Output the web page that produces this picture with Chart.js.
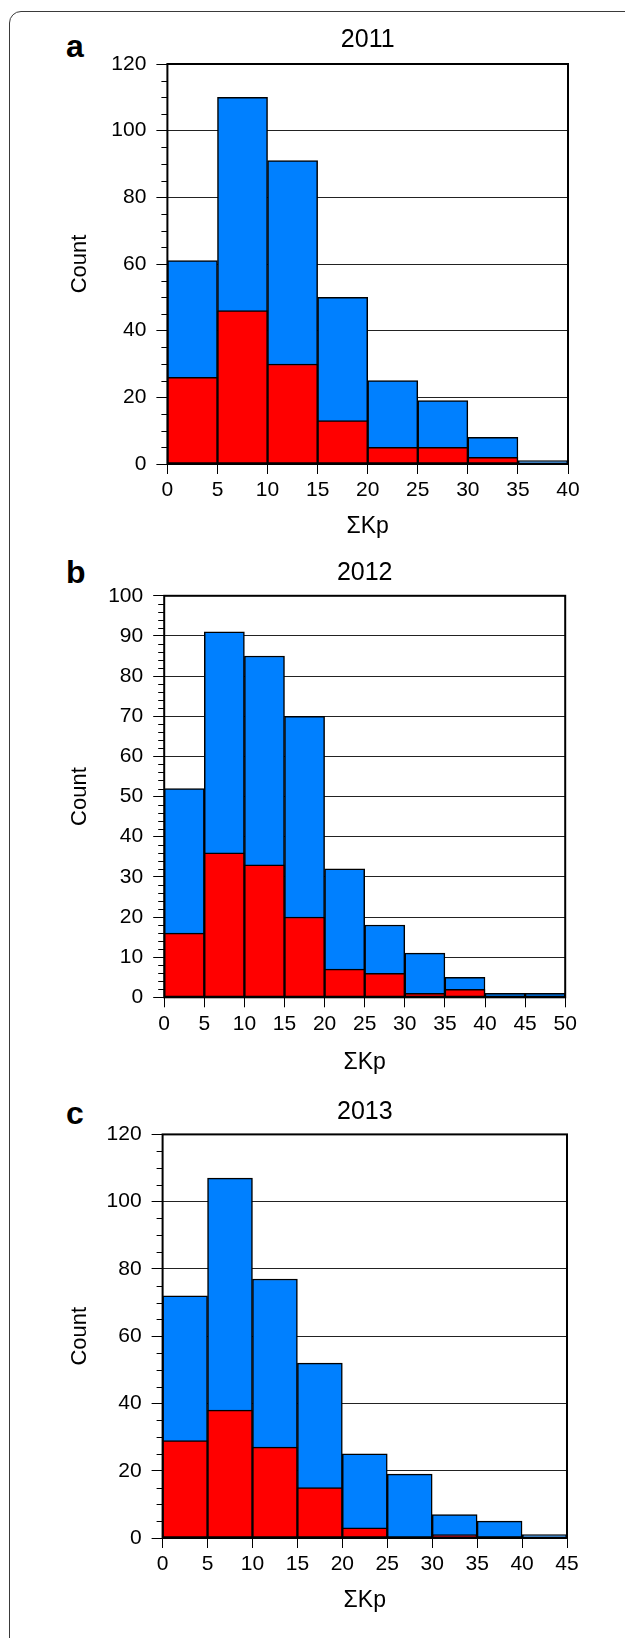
<!DOCTYPE html>
<html>
<head>
<meta charset="utf-8">
<script src="https://cdn.jsdelivr.net/npm/chart.js@4.4.0/dist/chart.umd.min.js"></script>
<style>
  html, body { margin: 0; padding: 0; background: #fff; }
  body { width: 625px; height: 1638px; position: relative; overflow: hidden; }
  .frame { position: absolute; left: 9px; top: 11px; width: 720px; height: 1720px; border: 1.5px solid #3a3a3a; border-radius: 12px; }
  .letter { position: absolute; left: 66px; font: bold 32px 'Liberation Sans', Arial, sans-serif; line-height: 1; color: #000; }
  canvas { position: absolute; left: 0; }
</style>
</head>
<body>
<div class="frame"></div>
<div class="letter" style="top:30px">a</div>
<div class="letter" style="top:556px">b</div>
<div class="letter" style="top:1097px">c</div>
<canvas id="chart2011" width="625" height="555" style="top:0px"></canvas>
<canvas id="chart2012" width="625" height="550" style="top:540px"></canvas>
<canvas id="chart2013" width="625" height="558" style="top:1080px"></canvas>

<script>
// bin centres (bins are 5 ΣKp wide)
const centers2011 = [2.5, 7.5, 12.5, 17.5, 22.5, 27.5, 32.5, 37.5];
const total2011 = [61, 110, 91, 50, 25, 19, 8, 1];
const red2011 = [26, 46, 30, 13, 5, 5, 2, 0];

const centers2012 = [2.5, 7.5, 12.5, 17.5, 22.5, 27.5, 32.5, 37.5, 42.5, 47.5];
const total2012 = [52, 91, 85, 70, 32, 18, 11, 5, 1, 1];
const red2012 = [16, 36, 33, 20, 7, 6, 1, 2, 0, 0];

const centers2013 = [2.5, 7.5, 12.5, 17.5, 22.5, 27.5, 32.5, 37.5, 42.5];
const total2013 = [72, 107, 77, 52, 25, 19, 7, 5, 1];
const red2013 = [29, 38, 27, 15, 3, 0, 1, 0, 0];

const FONT = "'Liberation Sans', Arial, Helvetica, sans-serif";
const BLUE = '#0080ff';
const RED = '#ff0000';

// black box round the plot area, drawn over the bars
const plotFrame = {
    id: 'plotFrame',
    afterDatasetsDraw(chart) {
        const { ctx, chartArea: a } = chart;
        ctx.save();
        ctx.strokeStyle = '#000';
        ctx.lineWidth = 2;
        ctx.strokeRect(a.left, a.top, a.right - a.left, a.bottom - a.top);
        ctx.restore();
    }
};

// short minor ticks on the left axis
const minorTicks = {
    id: 'minorTicks',
    afterDraw(chart, args, opts) {
        const y = chart.scales.y;
        const ctx = chart.ctx;
        ctx.save();
        ctx.strokeStyle = '#000';
        ctx.lineWidth = 1;
        for (let v = y.min + opts.step; v < y.max; v += opts.step) {
            if (v % opts.major === 0) continue;
            const py = Math.round(y.getPixelForValue(v)) + 0.5;
            ctx.beginPath();
            ctx.moveTo(y.right - 6, py);
            ctx.lineTo(y.right, py);
            ctx.stroke();
        }
        ctx.restore();
    }
};

function toPoints(xs, ys) {
    return xs.map((x, i) => ({ x: x, y: ys[i] }));
}

function makeChart(id, year, centers, totals, reds, axis, g) {
    const ctx = document.getElementById(id).getContext('2d');
    return new Chart(ctx, {
        type: 'bar',
        data: {
            datasets: [
                {
                    label: 'red',
                    data: toPoints(centers, reds),
                    backgroundColor: RED,
                    borderColor: '#000',
                    borderWidth: 1.5,
                    borderSkipped: false
                },
                {
                    label: 'all',
                    data: toPoints(centers, totals),
                    backgroundColor: BLUE,
                    borderColor: '#000',
                    borderWidth: 1.5,
                    borderSkipped: false
                }
            ]
        },
        options: {
            responsive: false,
            animation: false,
            grouped: false,
            barPercentage: 1,
            categoryPercentage: 1,
            layout: { padding: { left: 0, right: g.right, top: 0, bottom: 0 } },
            plugins: {
                legend: { display: false },
                tooltip: { enabled: false },
                title: {
                    display: true,
                    text: year,
                    fullSize: false,
                    color: '#000',
                    font: { family: FONT, size: 25, weight: 'normal' },
                    padding: { top: g.titleTop, bottom: g.titleBottom }
                },
                minorTicks: { step: axis.yMinor, major: axis.yStep }
            },
            scales: {
                x: {
                    type: 'linear',
                    min: 0,
                    max: axis.xMax,
                    offset: false,
                    ticks: { stepSize: 5, color: '#000', padding: 4, maxRotation: 0, autoSkip: false, font: { family: FONT, size: 21 } },
                    grid: { offset: false, drawOnChartArea: false, tickLength: 10, tickColor: '#000', tickWidth: 1 },
                    border: { display: false },
                    title: {
                        display: true,
                        text: 'ΣKp',
                        color: '#000',
                        font: { family: FONT, size: 23 },
                        padding: { top: 0, bottom: g.xTitlePad }
                    },
                    afterFit(s) { s.height = g.xHeight; }
                },
                y: {
                    min: 0,
                    max: axis.yMax,
                    ticks: { stepSize: axis.yStep, color: '#000', padding: 10, font: { family: FONT, size: 21 } },
                    grid: { color: '#222', lineWidth: 1, tickLength: 11, tickColor: '#000', tickWidth: 1 },
                    border: { display: false },
                    title: {
                        display: true,
                        text: 'Count',
                        color: '#000',
                        font: { family: FONT, size: 22 },
                        padding: { top: 66.8, bottom: 0 }
                    },
                    afterFit(s) { s.width = g.left; }
                }
            }
        },
        plugins: [plotFrame, minorTicks]
    });
}

makeChart('chart2011', '2011', centers2011, total2011, red2011,
    { xMax: 40, yMax: 120, yStep: 20, yMinor: 5 },
    { left: 167.4, right: 57, titleTop: 25.5, titleBottom: 8.5, xHeight: 91, xTitlePad: 14.2 });

makeChart('chart2012', '2012', centers2012, total2012, red2012,
    { xMax: 50, yMax: 100, yStep: 10, yMinor: 2 },
    { left: 164.2, right: 59.8, titleTop: 17.7, titleBottom: 8.1, xHeight: 92.7, xTitlePad: 13.2 });

makeChart('chart2013', '2013', centers2013, total2013, red2013,
    { xMax: 45, yMax: 120, yStep: 20, yMinor: 5 },
    { left: 162.6, right: 58, titleTop: 17, titleBottom: 7.4, xHeight: 100, xTitlePad: 23.2 });
</script>
</body>
</html>
